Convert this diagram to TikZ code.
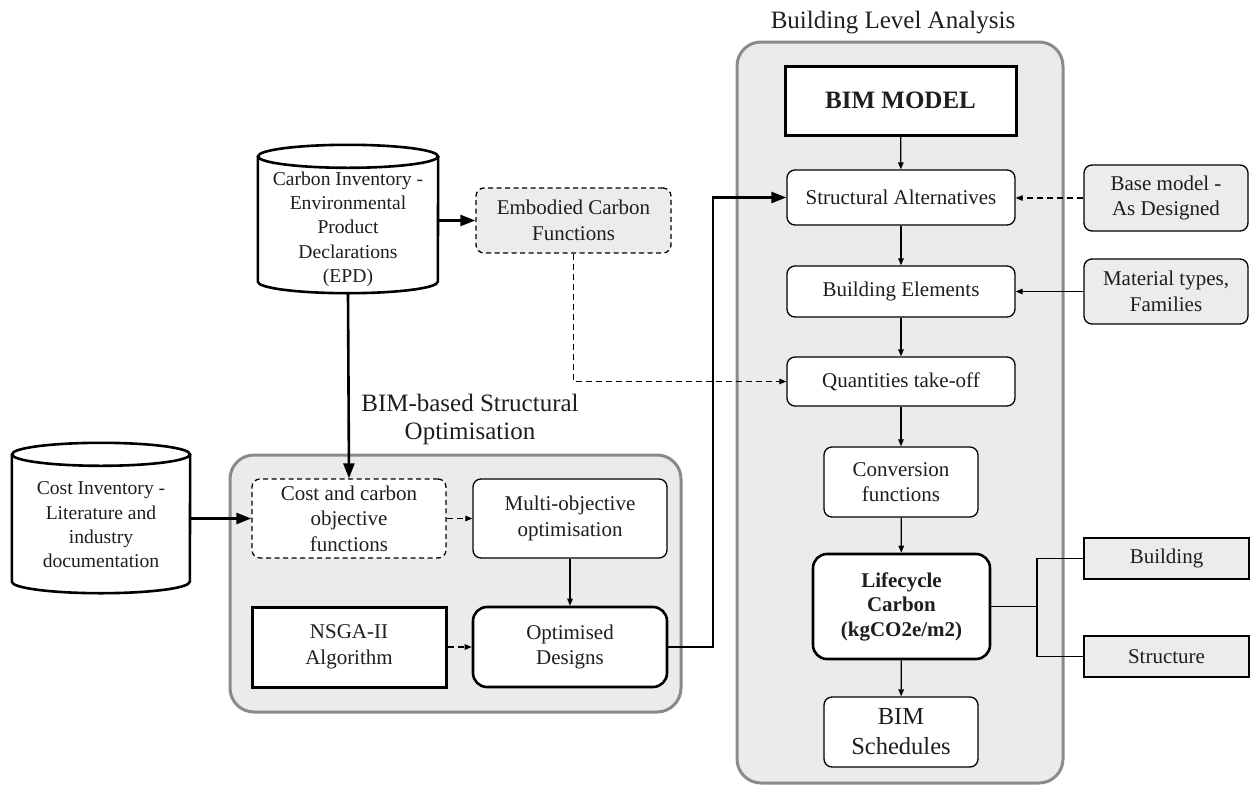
\documentclass[tikz,border=0pt]{standalone}
\usepackage{fontspec}
\setmainfont{Liberation Serif}
\usetikzlibrary{arrows.meta,calc}

\definecolor{panelfill}{HTML}{EBEBEB}
\definecolor{panelline}{HTML}{8A8A8A}
\definecolor{greyfill}{HTML}{ECECEC}
\definecolor{txt}{HTML}{1E1E1E}

\tikzset{
  base font/.style={font=\fontsize{21}{25.5}\selectfont},
  title font/.style={font=\fontsize{25}{28}\selectfont},
  box/.style={base font, text=txt, align=center, draw=black, line width=1.3pt,
    rounded corners=8pt, fill=white, inner sep=0pt},
  thickbox/.style={box, line width=3pt, rounded corners=0pt},
  thickround/.style={box, line width=2.6pt, rounded corners=14pt},
  dashbox/.style={box, dash pattern=on 5pt off 3.5pt},
  greybox/.style={box, fill=greyfill},
  flatgrey/.style={box, fill=greyfill, rounded corners=0pt},
  panel/.style={draw=panelline, fill=panelfill, line width=3pt, rounded corners=24pt},
  label/.style={title font, text=txt, align=center},
  dbtext/.style={font=\fontsize{19.6}{24.3}\selectfont, text=txt, align=center},
  dbshape/.style={inner sep=0pt},
  thin/.style={line width=1.2pt, -{Triangle[length=7pt,width=5.5pt]}},
  thinline/.style={line width=1.2pt},
  thick/.style={line width=2.6pt, -{Triangle[length=15pt,width=11pt]}},
  dashconn/.style={thin, dash pattern=on 6pt off 4pt},
}

% draws a database cylinder around a node: #1 node, #2 half width, #3 cap radius
\newcommand{\drawdb}[3]{%
  \draw[line width=2.6pt, fill=white]
    ($(#1.north west)+(0,#3)$) -- ($(#1.south west)+(0,-#3)$)
    arc[start angle=180, end angle=360, x radius=#2, y radius=-#3]
    -- ($(#1.north east)+(0,#3)$);
  \draw[line width=2.6pt, fill=white] ($(#1.north)+(0,#3)$) ellipse[x radius=#2, y radius=#3];
}

\begin{document}
\begin{tikzpicture}[x=1pt,y=-1pt]
\useasboundingbox (0,0) rectangle (1254,785);

% ---------- panels ----------
\draw[panel] (737,42) rectangle (1063,783);
\node[label] (blatitle) at (893,23) {Building Level Analysis};
\draw[panel] (230,455) rectangle (681,712);
\node[label] (opttitle) at (470,419) {BIM-based Structural\\Optimisation};

% ---------- building level analysis ----------
\node[thickbox, minimum width=231pt, minimum height=69pt,
      font=\bfseries\fontsize{25}{28}\selectfont] (bim) at (900.5,100.5) {BIM MODEL};
\node[box, minimum width=228pt, minimum height=55pt] (sa) at (901,197.5) {Structural Alternatives};
\node[box, minimum width=228pt, minimum height=51pt] (be) at (901,291.5) {Building Elements};
\node[box, minimum width=228pt, minimum height=49pt] (qto) at (901,381.5) {Quantities take-off};
\node[box, minimum width=154pt, minimum height=70pt] (conv) at (901,482) {Conversion\\functions};
\node[thickround, minimum width=177pt, minimum height=105pt,
      font=\bfseries\fontsize{21}{24.5}\selectfont] (lc) at (901.5,606.5) {Lifecycle\\Carbon\\(kgCO2e/m2)};
\node[box, minimum width=154pt, minimum height=70pt,
      font=\fontsize{24.5}{30}\selectfont] (sched) at (901,732) {BIM\\Schedules};

% ---------- side inputs / outputs ----------
\node[greybox, minimum width=164pt, minimum height=66pt] (basem) at (1166,198) {Base model -\\As Designed};
\node[greybox, minimum width=164pt, minimum height=65pt] (mat) at (1166,291.5) {Material types,\\Families};
\node[flatgrey, minimum width=165pt, minimum height=41pt] (bld) at (1166.5,558.5) {Building};
\node[flatgrey, minimum width=165pt, minimum height=41pt] (strc) at (1166.5,656.5) {Structure};

% ---------- inventories ----------
\node[dbshape, minimum width=180pt, minimum height=148pt] (cinv) at (348,219) {};
\drawdb{cinv}{90}{11.5}
\node[dbtext] (cinvtext) at (348,229) {Carbon Inventory -\\Environmental\\Product\\Declarations\\(EPD)};

\node[dbshape, minimum width=178pt, minimum height=150pt] (kinv) at (101,518) {};
\drawdb{kinv}{89}{11.5}
\node[dbtext] (kinvtext) at (101,525) {Cost Inventory -\\Literature and\\industry\\documentation};

\node[dashbox, fill=greyfill, minimum width=195pt, minimum height=65pt] (emb) at (573.5,220.5) {Embodied Carbon\\Functions};

% ---------- optimisation ----------
\node[dashbox, minimum width=194pt, minimum height=79pt] (cobj) at (349,518.5) {Cost and carbon\\objective\\functions};
\node[box, minimum width=194pt, minimum height=79pt] (multi) at (570,518.5) {Multi-objective\\optimisation};
\node[thickbox, minimum width=194pt, minimum height=80pt] (nsga) at (349,647) {NSGA-II\\Algorithm};
\node[thickround, minimum width=194pt, minimum height=80pt] (opt) at (570,647) {Optimised\\Designs};

% ---------- connectors ----------
\draw[thin] (bim) -- (sa);
\draw[thin] (sa) -- (be);
\draw[thin] (be) -- (qto);
\draw[thin] (qto) -- (conv);
\draw[thin] (conv) -- (lc);
\draw[thin] (lc) -- (sched);

\draw[dashconn] (basem.west) -- (basem.west -| sa.east);
\draw[thin] (mat.west) -- (mat.west -| be.east);

\coordinate (split) at (1037,0);
\draw[thinline] (lc.east) -- (lc.east -| split);
\draw[thinline] (bld.west) -- (bld.west -| split) -- (strc.west -| split) -- (strc.west);

\draw[thick] (cinv.east |- emb.west) -- (emb.west);
\draw[dashconn] (emb.south) -- (emb.south |- qto.west) -- (qto.west);
\draw[thick] (cinv.south) -- (cobj.north);
\draw[thick] (kinv.east |- cobj.west) -- (cobj.west);

\draw[dashconn] (cobj.east) -- (multi.west);
\draw[thin] (multi) -- (opt);
\draw[dashconn] (nsga.east) -- (opt.west);

\coordinate (riser) at (713,0);
\draw[thick] (opt.east) -- (opt.east -| riser) -- (riser |- sa.west) -- (sa.west);

\end{tikzpicture}
\end{document}
